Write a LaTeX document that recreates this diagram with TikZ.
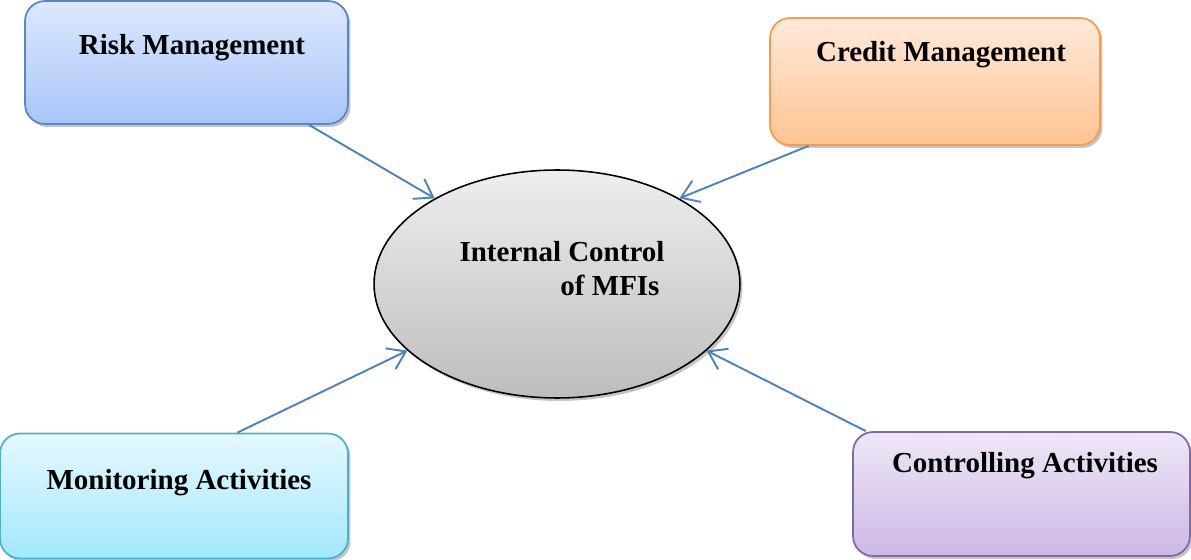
\documentclass[tikz,border=0pt]{standalone}
\usepackage{fontspec}
\setmainfont{Liberation Serif}
\usepackage{tikz}
\usetikzlibrary{arrows.meta,positioning,shapes.geometric,shadows}
\definecolor{RiskTop}{HTML}{DDE8FC}
\definecolor{RiskBot}{HTML}{A8C6FA}
\definecolor{RiskLine}{HTML}{5B86C0}
\definecolor{CreditTop}{HTML}{FFE9DA}
\definecolor{CreditBot}{HTML}{FFC493}
\definecolor{CreditLine}{HTML}{F79A4E}
\definecolor{MonTop}{HTML}{E6F8FE}
\definecolor{MonBot}{HTML}{A2E8FC}
\definecolor{MonLine}{HTML}{52AFC9}
\definecolor{CtrlTop}{HTML}{EEE7F6}
\definecolor{CtrlBot}{HTML}{CCB8E6}
\definecolor{CtrlLine}{HTML}{8468A6}
\definecolor{CoreTop}{HTML}{EEEEEE}
\definecolor{CoreBot}{HTML}{BDBDBD}
\definecolor{LinkBlue}{HTML}{4F81BD}

\begin{document}
\begin{tikzpicture}[x=0.02cm,y=-0.02cm,
  mbox/.style={rectangle,rounded corners=0.4cm,line width=1pt,
    drop shadow={shadow xshift=0.5mm,shadow yshift=-0.6mm,fill=black!45}},
  mlabel/.style={font=\fontsize{16.5}{20}\selectfont\bfseries,anchor=base,inner sep=0pt},
  link/.style={draw=LinkBlue,line width=1.1pt,-{Straight Barb[length=3.4mm,width=4.6mm]}}
]
\useasboundingbox (0,0) rectangle (1191,560);

% outer boxes
\node[mbox,draw=RiskLine,top color=RiskTop,bottom color=RiskBot,
  minimum width=6.46cm,minimum height=2.46cm] (risk) at (186.5,62.5) {};
\node[mbox,draw=CreditLine,top color=CreditTop,bottom color=CreditBot,
  minimum width=6.6cm,minimum height=2.54cm] (credit) at (935,81.5) {};
\node[mbox,draw=MonLine,top color=MonTop,bottom color=MonBot,
  minimum width=6.96cm,minimum height=2.5cm] (monitor) at (174,496) {};
\node[mbox,draw=CtrlLine,top color=CtrlTop,bottom color=CtrlBot,
  minimum width=6.74cm,minimum height=2.48cm] (control) at (1021.5,494) {};

% centre
\node[ellipse,draw=black,line width=0.9pt,top color=CoreTop,bottom color=CoreBot,
  minimum width=7.32cm,minimum height=4.56cm,
  drop shadow={shadow xshift=0.5mm,shadow yshift=-0.6mm,fill=black!45}] (core) at (557,284) {};

% texts
\node[mlabel] (risklbl) at (192,55) {Risk Management};
\node[mlabel] (creditlbl) at (941,62) {Credit Management};
\node[mlabel] (monitorlbl) at (179,490) {Monitoring Activities};
\node[mlabel] (controllbl) at (1025,473) {Controlling Activities};
\node[mlabel] (corelbl) at (562,262) {Internal Control};
\node[mlabel] (corelblb) at (610,296) {of MFIs};

% arrows
\draw[link] (risk.-27.5) -- (core.145);
\draw[link] (credit.-153.6) -- (core.35.6);
\draw[link] (monitor.45) -- (core.204.3);
\draw[link] (control.158) -- (core.-24.3);
\end{tikzpicture}
\end{document}
